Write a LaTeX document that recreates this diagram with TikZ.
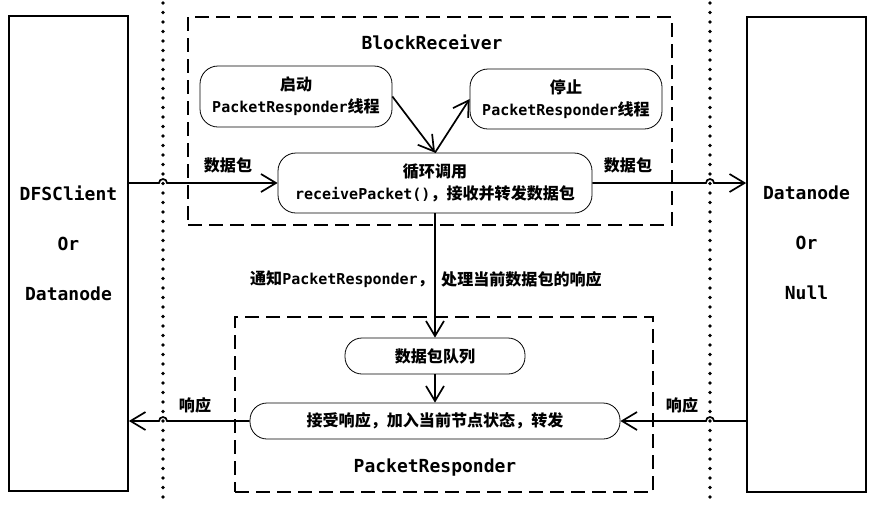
\documentclass[tikz,border=0pt]{standalone}
\usepackage{fontspec}
\setmonofont{DejaVu Sans Mono}
\newfontfamily\cjk{Noto Sans CJK SC}[Scale=1.07]
\usetikzlibrary{arrows.meta,calc}
\newcommand\zh[1]{{\cjk #1}}
\tikzset{
  outbox/.style={draw, line width=1.7pt, minimum width=119pt, minimum height=475pt, inner sep=0pt},
  groupbox/.style={draw, line width=1.7pt, dash pattern=on 14pt off 7pt, inner sep=0pt},
  stepbox/.style={draw, line width=0.8pt, rounded corners=18pt, inner sep=0pt, align=center,
    font=\ttfamily\bfseries\fontsize{15}{22}\selectfont},
  pillbox/.style={draw, line width=0.8pt, rounded corners=17pt, inner sep=0pt, align=center,
    minimum height=36pt, font=\ttfamily\bfseries\fontsize{15}{22}\selectfont},
  bigtitle/.style={font=\ttfamily\bfseries\fontsize{18}{50}\selectfont, align=center, inner sep=0pt},
  lbl/.style={font=\ttfamily\bfseries\fontsize{15}{20}\selectfont, inner sep=0pt},
  dotline/.style={line width=3.6pt, line cap=round, dash pattern=on 0pt off 9.5pt},
  arr/.style={line width=1.7pt, -{Straight Barb[length=15pt,width=18pt,line width=1.7pt]}},
}
\begin{document}
\begin{tikzpicture}[x=1pt,y=-1pt]
\useasboundingbox (0,0) rectangle (875,507);
% outer boxes
\node[outbox] (lbox) at (68.5,253.5) {};
\node[bigtitle] (ltext) at (68.5,243) {DFSClient\\Or\\Datanode};
\node[outbox] (rbox) at (806.5,254.5) {};
\node[bigtitle] (rtext) at (806.5,243) {Datanode\\Or\\Null};
% dotted separators
\coordinate (dl) at (163,3);
\coordinate (dlb) at (163,505);
\coordinate (dr) at (710,3);
\coordinate (drb) at (710,505);
\draw[dotline] (dl) -- (dlb);
\draw[dotline] (dr) -- (drb);
% group boxes
\node[groupbox, minimum width=484pt, minimum height=208pt] (br) at (430,121) {};
\node[bigtitle] (brt) at (432,42) {BlockReceiver};
\node[groupbox, minimum width=418pt, minimum height=175pt] (pr) at (444,404.5) {};
\node[bigtitle] (prt) at (435,468) {PacketResponder};
% steps
\node[stepbox, minimum width=192pt, minimum height=61pt] (start) at (296,96.5) {\zh{启动}\\PacketResponder\zh{线程}};
\node[stepbox, minimum width=192pt, minimum height=60pt] (stop) at (566,99) {\zh{停止}\\PacketResponder\zh{线程}};
\node[stepbox, minimum width=314pt, minimum height=60pt] (loop) at (435,183) {\zh{循环调用}\\receivePacket()\zh{，接收并转发数据包}};
\node[pillbox, minimum width=180pt] (queue) at (435,356) {\zh{数据包队列}};
\node[pillbox, minimum width=370pt] (reply) at (435,421) {\zh{接受响应，加入当前节点状态，转发}};
% arrows
\draw[arr] (start.east) -- (loop.north);
\draw[arr] (loop.north) -- (stop.west);
\draw[arr] (loop.south) -- (queue.north);
\draw[arr] (queue.south) -- (reply.north);
\draw[arr] (lbox.east |- loop.west) -- ($(dl |- loop.west)+(-4,0)$) arc[start angle=180,end angle=0,radius=4pt] -- (loop.west);
\draw[arr] (loop.east) -- ($(dr |- loop.east)+(-4,0)$) arc[start angle=180,end angle=0,radius=4pt] -- (rbox.west |- loop.east);
\draw[arr] (rbox.west |- reply.east) -- ($(dr |- reply.east)+(4,0)$) arc[start angle=0,end angle=180,radius=4pt] -- (reply.east);
\draw[arr] (reply.west) -- ($(dl |- reply.west)+(4,0)$) arc[start angle=0,end angle=180,radius=4pt] -- (lbox.east |- reply.west);
% labels
\node[lbl] (d1) at (228,165) {\zh{数据包}};
\node[lbl] (d2) at (628,165) {\zh{数据包}};
\node[lbl] (r1) at (195,405) {\zh{响应}};
\node[lbl] (r2) at (682,405) {\zh{响应}};
\node[lbl, anchor=east] (n1) at ($(loop.south)+(-1,66)$) {\zh{通知}PacketResponder\zh{，}};
\node[lbl, anchor=west] (n2) at ($(loop.south)+(6,66)$) {\zh{处理当前数据包的响应}};
\end{tikzpicture}
\end{document}
